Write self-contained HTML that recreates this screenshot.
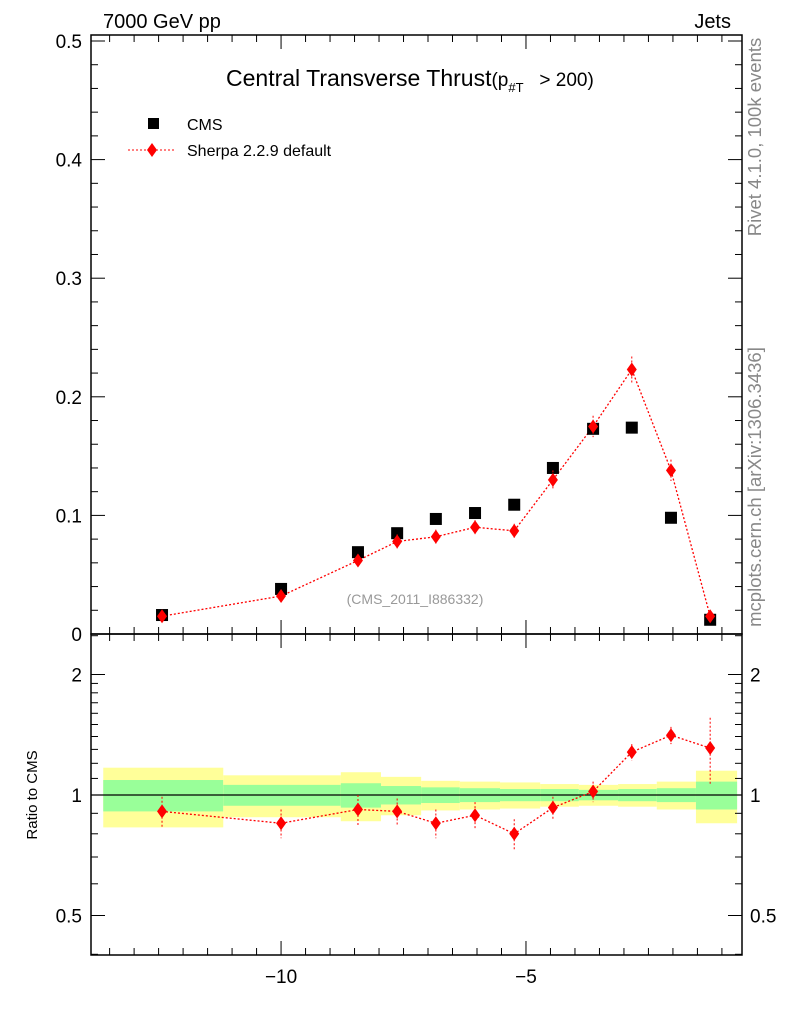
<!DOCTYPE html>
<html><head><meta charset="utf-8"><style>
body{margin:0;background:#fff}
svg{display:block;font-family:"Liberation Sans",Arial,sans-serif}
</style></head><body>
<svg id="c" width="786" height="1024" xmlns="http://www.w3.org/2000/svg"></svg>
<script>
const xCenters=[-12.43,-10,-8.43,-7.63,-6.84,-6.04,-5.24,-4.45,-3.63,-2.84,-2.04,-1.24];
const binEdges=[-13.63,-11.18,-8.78,-7.96,-7.14,-6.35,-5.53,-4.71,-3.92,-3.12,-2.33,-1.53,-0.69];
const cmsValues=[0.016,0.038,0.069,0.085,0.097,0.102,0.109,0.140,0.173,0.174,0.098,0.012];
const sherpaValues=[0.015,0.032,0.062,0.078,0.082,0.090,0.087,0.130,0.175,0.223,0.138,0.015];
const sherpaErrors=[0.003,0.004,0.005,0.006,0.006,0.006,0.006,0.008,0.009,0.011,0.009,0.003];
const ratioValues=[0.91,0.85,0.92,0.91,0.85,0.89,0.80,0.93,1.02,1.28,1.41,1.31];
const ratioErrors=[0.08,0.07,0.08,0.07,0.07,0.07,0.07,0.06,0.06,0.06,0.07,0.25];
const yellowBand=[0.17,0.12,0.14,0.11,0.085,0.08,0.075,0.065,0.06,0.065,0.08,0.15];
const greenBand=[0.09,0.06,0.07,0.053,0.045,0.04,0.035,0.035,0.03,0.035,0.04,0.08];
const xTicks=[-10,-5];
const yTicks=[0,0.1,0.2,0.3,0.4,0.5];
const yTickLabels=["0","0.1","0.2","0.3","0.4","0.5"];
const rTicks=[0.5,1,2];

const L=91,R=742,T=35,B=634,RB=955;
const X=v=>L+(v+13.88)*(R-L)/13.29;
const Y=v=>B-(v)/(0.5)*(B-41);
const RY=v=>795-Math.log2(v)*120.5;
const svg=document.getElementById('c');
const NS="http://www.w3.org/2000/svg";
function el(t,a,p){const e=document.createElementNS(NS,t);for(const k in a)e.setAttribute(k,a[k]);(p||svg).appendChild(e);return e;}
function txt(s,a){const e=el('text',a);e.textContent=s;return e;}

const gb=el('g',{});


for(let i=0;i<yellowBand.length;i++){
  const x0=X(binEdges[i]),x1=X(binEdges[i+1]);
  const y=el('rect',{x:x0,width:x1-x0,y:RY(1+yellowBand[i]),height:RY(1-yellowBand[i])-RY(1+yellowBand[i]),fill:'#ffff99'},gb);
  
  
  const g=el('rect',{x:x0,width:x1-x0,y:RY(1+greenBand[i]),height:RY(1-greenBand[i])-RY(1+greenBand[i]),fill:'#99ff99'},gb);
  
  
}
el('line',{x1:L,x2:R,y1:RY(1),y2:RY(1),stroke:'#000','stroke-width':1.3});

const f1=el('rect',{x:L,y:T,width:R-L,height:B-T,fill:'none',stroke:'#000','stroke-width':1.5});

const f2=el('rect',{x:L,y:B,width:R-L,height:RB-B,fill:'none',stroke:'#000','stroke-width':1.5});


for(let v=-13.5;v<=-0.6;v+=0.5){
  const maj=Math.abs(v-Math.round(v/5)*5)<1e-6; const x=X(v);
  const len=maj?14:7;
  [[T,T+len],[B,B-len],[B,B+len],[RB,RB-len]].forEach(([a,b])=>el('line',{x1:x,x2:x,y1:a,y2:b,stroke:'#000','stroke-width':1}));
}
xTicks.forEach(v=>{const t=txt('\u2212'+Math.abs(v),{x:X(v),y:983,'font-size':19,'text-anchor':'middle'});});
for(let v=0;v<=0.5001;v+=0.02){const maj=Math.abs(v*10-Math.round(v*10))<1e-6;const y=Y(v);const len=maj?14:7;
  el('line',{x1:L,x2:L+len,y1:y,y2:y,stroke:'#000'});el('line',{x1:R,x2:R-len,y1:y,y2:y,stroke:'#000'});}
yTicks.forEach((v,i)=>{const t=txt(yTickLabels[i],{x:82,y:Y(v)+7,'font-size':19,'text-anchor':'end'});});
[0.4,0.5,0.6,0.7,0.8,0.9,1,1.1,1.2,1.3,1.4,1.5,1.6,1.7,1.8,1.9,2,2.5].forEach(v=>{const y=RY(v);if(y<B||y>RB)return;const maj=rTicks.includes(v);const len=maj?14:7;
  el('line',{x1:L,x2:L+len,y1:y,y2:y,stroke:'#000'});el('line',{x1:R,x2:R-len,y1:y,y2:y,stroke:'#000'});});
rTicks.forEach(v=>{const y=RY(v)+7;
  const a=txt(String(v),{x:82,y:y,'font-size':19,'text-anchor':'end'});
  const b=txt(String(v),{x:750,y:y,'font-size':19});});

const sl=el('polyline',{points:xCenters.map((x,i)=>X(x)+','+Y(sherpaValues[i])).join(' '),fill:'none',stroke:'#f00','stroke-width':1.3,'stroke-dasharray':'2,2'});

const rl=el('polyline',{points:xCenters.map((x,i)=>X(x)+','+RY(ratioValues[i])).join(' '),fill:'none',stroke:'#f00','stroke-width':1.3,'stroke-dasharray':'2,2'});

function diamond(x,y){return `${x},${y-7} ${x+5},${y} ${x},${y+7} ${x-5},${y}`;}
xCenters.forEach((xv,i)=>{
  const x=X(xv);
  const c=el('rect',{x:x-6,y:Y(cmsValues[i])-6,width:12,height:12,fill:'#000'});
  
  el('line',{x1:x,x2:x,y1:Y(sherpaValues[i]+sherpaErrors[i]),y2:Y(sherpaValues[i]-sherpaErrors[i]),stroke:'#f00','stroke-dasharray':'2,2'});
  const s=el('polygon',{points:diamond(x,Y(sherpaValues[i])),fill:'#f00'});
  
  el('line',{x1:x,x2:x,y1:RY(ratioValues[i]+ratioErrors[i]),y2:RY(ratioValues[i]-ratioErrors[i]),stroke:'#f00','stroke-dasharray':'2,2'});
  const r=el('polygon',{points:diamond(x,RY(ratioValues[i])),fill:'#f00'});
  
});
</script>
<svg width="786" height="1024" style="position:absolute;left:0;top:0" xmlns="http://www.w3.org/2000/svg">
<text x="103" y="28" font-size="20" font-family="Liberation Sans,sans-serif">7000 GeV pp</text>
<text x="731" y="28" font-size="20" text-anchor="end" font-family="Liberation Sans,sans-serif">Jets</text>
<text x="226" y="86" font-size="23" font-family="Liberation Sans,sans-serif">Central Transverse Thrust<tspan font-size="19">(p</tspan><tspan font-size="13" dy="6">#T</tspan><tspan font-size="19" dy="-6" xml:space="preserve">   &gt; 200)</tspan></text>
<rect x="148" y="118" width="11" height="11" fill="#000"/>
<text x="187" y="130" font-size="16" font-family="Liberation Sans,sans-serif">CMS</text>
<line x1="128" x2="176" y1="150" y2="150" stroke="#f00" stroke-dasharray="2,2"/>
<polygon points="152,143 157,150 152,157 147,150" fill="#f00"/>
<text x="187" y="156" font-size="16" font-family="Liberation Sans,sans-serif">Sherpa 2.2.9 default</text>
<text x="415" y="604" font-size="14" fill="#999" text-anchor="middle" font-family="Liberation Sans,sans-serif">(CMS_2011_I886332)</text>
<text transform="translate(761,137) rotate(-90)" font-size="18.5" fill="#888" text-anchor="middle" font-family="Liberation Sans,sans-serif">Rivet 4.1.0,  100k events</text>
<text transform="translate(761,487) rotate(-90)" font-size="18.5" fill="#888" text-anchor="middle" font-family="Liberation Sans,sans-serif">mcplots.cern.ch [arXiv:1306.3436]</text>
<text transform="translate(37,795) rotate(-90)" font-size="15" text-anchor="middle" font-family="Liberation Sans,sans-serif">Ratio to CMS</text>
</svg>
</body></html>
